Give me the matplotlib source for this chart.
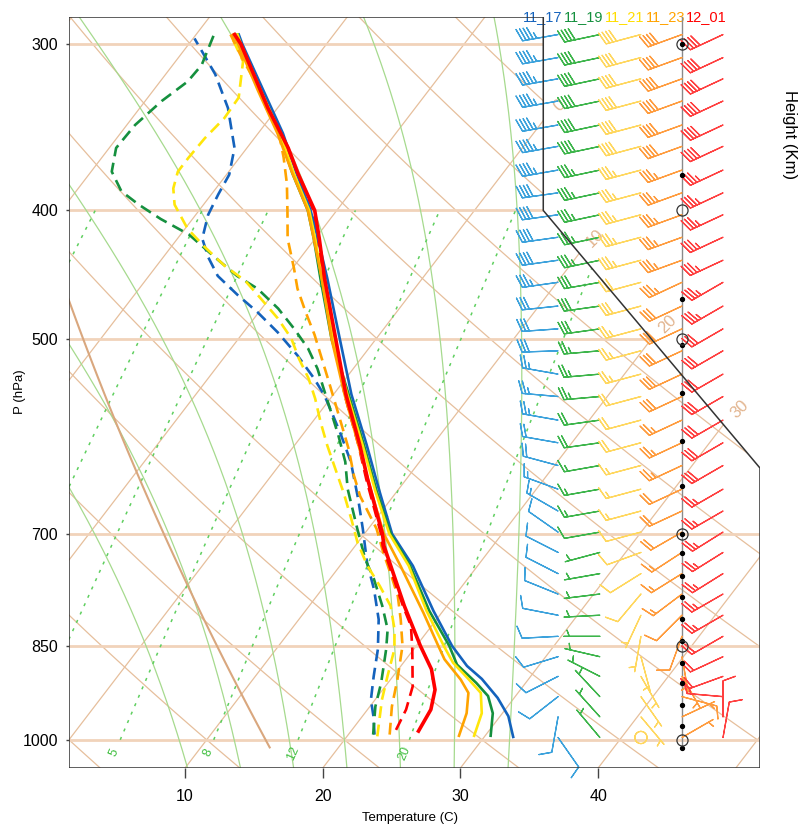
import numpy as np
import matplotlib
matplotlib.use("Agg")
import matplotlib.pyplot as plt
import matplotlib.transforms as mtransforms
from matplotlib.patches import Polygon

plt.rcParams["font.family"] = ["Liberation Sans", "DejaVu Sans"]

# ---------------- data ----------------
times = ["11_17", "11_19", "11_21", "11_23", "12_01"]
line_colors = ["#1462bc", "#15903e", "#ffe60a", "#ffa300", "#ff0000"]
barb_colors = ["#3ca2dc", "#3db54b", "#ffd75e", "#ff9c3e", "#ff4040"]

# temperature (hPa, C)
p_t_1117 = [995, 960, 930, 900, 880, 850, 800, 740, 700, 650, 600, 550, 500, 450, 420, 400, 375, 350, 325, 300, 295]
t_1117 = [32.1, 30.6, 28.8, 26.6, 24.8, 22.6, 19.3, 15.3, 12.0, 8.7, 5.2, 1.3, -2.6, -6.9, -9.8, -11.9, -15.0, -18.2, -22.0, -26.1, -26.9]
p_t_1119 = [993, 955, 927, 906, 878, 850, 800, 740, 700, 650, 600, 550, 500, 450, 420, 400, 375, 350, 325, 300, 295]
t_1119 = [30.4, 29.3, 28.0, 26.4, 24.0, 22.4, 19.0, 15.1, 11.9, 8.5, 5.0, 1.1, -3.2, -7.4, -10.1, -12.1, -15.3, -18.5, -22.3, -26.3, -27.0]
p_t_1121 = [993, 955, 922, 901, 875, 850, 800, 740, 700, 650, 600, 550, 500, 450, 420, 400, 375, 350, 325, 300, 295]
t_1121 = [29.2, 28.5, 27.3, 25.7, 23.6, 22.0, 18.8, 15.0, 11.8, 8.4, 4.9, 1.0, -3.1, -7.3, -10.0, -12.0, -15.2, -18.4, -22.2, -26.2, -27.0]
p_t_1123 = [993, 955, 922, 901, 870, 850, 803, 740, 700, 650, 600, 550, 500, 450, 420, 400, 375, 350, 325, 300, 295]
t_1123 = [28.1, 27.4, 26.4, 25.1, 22.8, 21.6, 18.7, 14.4, 11.4, 8.1, 4.6, 0.8, -3.2, -7.3, -10.1, -12.1, -15.3, -18.6, -22.4, -26.4, -27.3]
p_t_1201 = [985, 949, 917, 885, 850, 793, 715, 700, 637, 600, 550, 500, 450, 420, 400, 375, 359, 335, 300, 295]
t_1201 = [24.9, 24.6, 23.8, 22.4, 20.3, 16.9, 12.1, 11.3, 7.2, 4.7, 0.9, -2.9, -7.1, -9.7, -11.6, -14.9, -17.0, -20.7, -26.2, -27.2]

# dew point (hPa, C)
p_td_1117 = [991, 960, 933, 896, 855, 812, 771, 736, 694, 659, 618, 590, 570, 551, 535, 514, 494, 477, 463,
             448, 434, 420, 403, 389, 376, 359, 335, 316, 297]
td_1117 = [21.9, 20.8, 19.7, 18.6, 17.4, 15.8, 13.8, 11.8, 9.6, 7.6, 5.0, 2.8, 1.1, -0.6, -2.3, -4.8, -7.5, -10.1, -12.5,
           -15.0, -16.7, -18.2, -19.1, -19.5, -19.8, -20.9, -23.6, -26.4, -29.9]
p_td_1119 = [991, 944, 906, 855, 826, 793, 757, 732, 694, 648, 618, 590, 567, 545, 526, 508, 491, 474, 458,
             448, 434, 417, 406, 396, 387, 374, 359, 345, 331, 320, 311, 295]
td_1119 = [21.8, 20.4, 19.5, 18.0, 17.0, 15.3, 13.2, 11.5, 9.2, 6.3, 4.6, 2.6, 0.8, -1.0, -2.6, -4.4, -6.5, -8.8, -11.4,
           -13.6, -16.2, -19.4, -22.3, -24.7, -26.7, -28.5, -29.5, -29.4, -28.8, -28.0, -27.9, -28.7]
p_td_1121 = [994, 933, 896, 855, 826, 793, 766, 740, 711, 682, 652, 626, 601, 577, 554, 535, 517, 499, 482, 466,
             452, 440, 427, 413, 396, 385, 374, 365, 353, 341, 329, 309, 295]
td_1121 = [22.2, 20.5, 19.6, 18.6, 17.5, 15.9, 14.0, 12.0, 10.0, 8.2, 6.2, 4.3, 2.4, 0.6, -1.1, -2.7, -4.5, -6.2, -8.3, -10.6,
           -12.7, -15.1, -17.4, -19.8, -22.1, -23.1, -23.7, -23.7, -23.6, -23.3, -23.4, -25.1, -27.5]
p_td_1123 = [991, 944, 901, 850, 812, 780, 753, 723, 694, 656, 633, 604, 580, 557, 535, 514, 496, 477, 458, 442,
             420, 401, 382, 365, 349, 335, 320, 307, 295]
td_1123 = [23.0, 21.6, 20.5, 19.0, 17.4, 15.9, 14.3, 12.4, 10.6, 7.6, 6.0, 4.1, 2.3, 0.5, -1.3, -3.1, -4.7, -6.6, -8.5, -9.9,
           -12.0, -13.5, -15.1, -16.8, -18.6, -20.7, -23.1, -25.4, -27.5]
p_td_1201 = [983, 949, 912, 855, 821, 793, 715, 700, 637, 600, 550, 500, 450, 400, 359, 335, 300, 295]
td_1201 = [23.2, 22.8, 22.0, 19.9, 18.5, 16.8, 12.0, 11.2, 7.1, 4.6, 0.8, -3.0, -7.2, -11.7, -17.1, -20.8, -26.3, -27.3]

# wind barb levels (hPa), direction (deg, from) and speed per time
barb_p = [295, 307, 318.5, 331, 345, 358, 373, 388, 403, 419, 436, 453, 472, 491, 510, 531, 552,
          575, 598, 622, 648, 673, 698, 723, 750, 777, 806, 836, 866, 896, 928, 961, 996]
dir_1117 = [260, 260, 260, 260, 260, 260, 260, 262, 262, 262, 262, 262, 264, 266, 268, 280, 275,
            280, 280, 285, 290, 300, 305, 297, 297, 292, 281, 267, 253, 243, 232, 190, 145]
spd_1117 = [45, 45, 45, 45, 45, 45, 45, 40, 40, 40, 40, 35, 30, 30, 30, 25, 25,
            25, 20, 20, 15, 15, 10, 10, 10, 10, 10, 10, 10, 10, 10, 10, 10]
dir_1119 = [258, 258, 258, 258, 258, 258, 258, 258, 258, 258, 258, 260, 262, 262, 265, 265, 265,
            262, 262, 260, 260, 260, 260, 255, 260, 263, 267, 270, 283, 297, 317, 318, 320]
spd_1119 = [40, 40, 40, 40, 40, 40, 35, 35, 35, 35, 35, 30, 30, 30, 25, 25, 25,
            20, 20, 15, 15, 15, 10, 5, 5, 5, 5, 5, 5, 5, 5, 5, 5]
dir_1121 = [255, 255, 255, 255, 255, 255, 255, 255, 255, 255, 255, 255, 255, 255, 255, 255, 255,
            255, 255, 255, 255, 255, 255, 250, 238, 220, 205, 190, 165, 150, 145, 140, 0]
spd_1121 = [40, 40, 40, 40, 40, 40, 35, 35, 35, 35, 35, 30, 30, 25, 25, 25, 20,
            20, 20, 15, 15, 15, 10, 10, 10, 10, 5, 5, 5, 5, 5, 5, 0]
dir_1123 = [250, 250, 250, 250, 250, 250, 250, 250, 250, 250, 250, 245, 245, 245, 245, 245, 245,
            245, 245, 245, 245, 245, 240, 237, 238, 233, 225, 200, 170, 150, 105, 65, 60]
spd_1123 = [40, 40, 40, 40, 40, 40, 35, 35, 35, 35, 35, 35, 30, 30, 30, 30, 30,
            25, 25, 25, 20, 20, 20, 15, 15, 15, 10, 10, 5, 5, 10, 5, 5]
dir_1201 = [245, 245, 245, 245, 245, 245, 245, 245, 245, 245, 245, 240, 240, 240, 240, 240, 240,
            240, 240, 240, 240, 240, 238, 238, 238, 240, 240, 240, 245, 250, 275, 360, 10]
spd_1201 = [40, 40, 40, 40, 40, 40, 35, 35, 35, 35, 35, 35, 35, 30, 30, 30, 30,
            30, 30, 30, 25, 25, 25, 25, 25, 25, 25, 20, 20, 20, 15, 10, 10]

# height axis marks (hPa)
height_dot_p = [300, 376, 466, 505, 549, 596, 644, 700, 724, 753, 781, 812, 843, 875, 907, 942, 977, 1014]
height_ring_p = [300, 400, 500, 700, 850, 1000]

# ---------------- skew-T geometry (NCL style) ----------------
def skew_y(p):
    return 132.182 - 44.061 * np.log10(np.asarray(p, dtype=float))


def skew_x(t, p):
    return 0.54 * np.asarray(t, dtype=float) + 0.90692 * skew_y(p)


XMAX = 27.1
YBOT = skew_y(1050.0)
YTOP = 23.94
outline = [(0.0, YBOT), (XMAX, YBOT), (XMAX, 9.0), (18.6, skew_y(400.0)), (18.6, YTOP), (0.0, YTOP)]

fig = plt.figure(figsize=(8.04, 8.27), dpi=100)
ax = fig.add_axes([69 / 804, 59 / 827, 691 / 804, 751 / 827])
ax.set_xlim(0, XMAX)
ax.set_ylim(YBOT, YTOP)
for s in ax.spines.values():
    s.set_visible(False)

clip = Polygon(outline, closed=True, transform=ax.transData, fill=False, edgecolor="none")
ax.add_patch(clip)

tan = "#e6bf9c"
pp = np.linspace(1050, 280, 300)


def bg_line(x, y, **kw):
    ln, = ax.plot(x, y, **kw)
    ln.set_clip_path(clip)
    return ln


# isotherms
for t in range(-100, 60, 10):
    bg_line(skew_x([t, t], [1050, 280]), skew_y([1050, 280]), color=tan, lw=0.9, zorder=1)

# dry adiabats
for th in range(-40, 210, 10):
    tt = (th + 273.15) * (pp / 1000.0) ** 0.2857 - 273.15
    bg_line(skew_x(tt, pp), skew_y(pp), color=tan, lw=0.9, zorder=1)

# isobars
for p in [1000, 850, 700, 500, 400, 300]:
    bg_line([0, XMAX], [skew_y(p), skew_y(p)], color="#f1d3ba", lw=2.0, zorder=1)


# moist adiabats
def moist_rate(tk, p):
    es = 6.112 * np.exp(17.67 * (tk - 273.15) / (tk - 29.65))
    rs = 0.622 * es / (p - es)
    num = 287.0 * tk + 2.501e6 * rs
    den = 1005.7 + 2.501e6 ** 2 * rs * 0.622 / (287.0 * tk ** 2)
    return num / den / p


def moist_path(t0, plist):
    tk = t0 + 273.15
    out = [tk]
    for p0, p1 in zip(plist[:-1], plist[1:]):
        k1 = moist_rate(tk, p0)
        k2 = moist_rate(tk + 0.5 * k1 * (p1 - p0), 0.5 * (p0 + p1))
        tk = tk + k2 * (p1 - p0)
        out.append(tk)
    return np.array(out) - 273.15


p_up = np.arange(1000, 278, -2.0)
p_dn = np.arange(1000, 1052, 2.0)
for t0 in [8, 12, 16, 20, 24, 28, 32]:
    tu = moist_path(t0, p_up)
    td = moist_path(t0, p_dn)
    px = np.concatenate([p_dn[::-1], p_up[1:]])
    tx = np.concatenate([td[::-1], tu[1:]])
    bg_line(skew_x(tx, px), skew_y(px), color="#a6da8e", lw=0.9, zorder=1)

# mixing ratio lines
pw = np.linspace(1000, 400, 50)
for w in [1, 2, 3, 5, 8, 12, 20]:
    e = w * pw / (622.0 + w)
    a = np.log(e / 6.112)
    tdw = 243.5 * a / (17.67 - a)
    bg_line(skew_x(tdw, pw), skew_y(pw), color="#5fcf5f", lw=1.1, ls=(0, (2, 4)), zorder=1)
    if w >= 5:
        e0 = w * 1023.0 / (622.0 + w)
        a0 = np.log(e0 / 6.112)
        t0 = 243.5 * a0 / (17.67 - a0)
        ax.text(skew_x(t0, 1023), skew_y(1023), str(w), color="#3fbf3f", fontsize=9,
                rotation=66, ha="center", va="center", zorder=2)

# standard atmosphere
p_std = np.linspace(1013.25, 280, 100)
t_std = 288.15 * (p_std / 1013.25) ** 0.190263 - 273.15
bg_line(skew_x(t_std, p_std), skew_y(p_std), color="#d9a77e", lw=1.5, zorder=1)

# isotherm labels along the cut edge
for t in [0, 10, 20, 30]:
    yv = (18.6 - 0.54 * t) / 0.90692
    if yv < skew_y(400.0):
        y4 = skew_y(400.0)
        k = (XMAX - 18.6) / (9.0 - y4)
        yv = (18.6 - k * y4 - 0.54 * t) / (0.90692 - k)
    xv = 0.54 * t + 0.90692 * yv
    ax.text(xv + 0.62, yv + 0.5, str(t), color="#e2b48e", fontsize=12, rotation=45,
            ha="center", va="center", zorder=2, clip_on=False)

# outline
ax.add_patch(Polygon(outline, closed=True, fill=False, edgecolor="#333333", lw=1.1, zorder=8))

# ---------------- profiles ----------------
t_sets = [(p_t_1117, t_1117), (p_t_1119, t_1119), (p_t_1121, t_1121), (p_t_1123, t_1123), (p_t_1201, t_1201)]
td_sets = [(p_td_1117, td_1117), (p_td_1119, td_1119), (p_td_1121, td_1121), (p_td_1123, td_1123),
           (p_td_1201, td_1201)]
for i, ((pt, tt), (pd, tdd)) in enumerate(zip(t_sets, td_sets)):
    lw = 2.6 if i == 4 else 1.9
    ax.plot(skew_x(tdd, pd), skew_y(pd), color=line_colors[i], lw=1.9,
            ls=(0, (4.5, 2.5)), zorder=5)
    ax.plot(skew_x(tt, pt), skew_y(pt), color=line_colors[i], lw=lw, zorder=6)

# ---------------- height axis ----------------
barb_x = [19.18, 20.82, 22.43, 24.04, 25.65]
hx = barb_x[3]
ax.plot([hx, hx], [skew_y(1014), YTOP], color="#8a8a8a", lw=1.0, zorder=7, clip_on=False)
ax.plot([hx] * len(height_dot_p), skew_y(height_dot_p), "o", color="black", ms=2.8, zorder=9, clip_on=False)
ax.plot([hx] * len(height_ring_p), skew_y(height_ring_p), "o", mfc="none", mec="#333333", mew=0.9, ms=8,
        zorder=9, clip_on=False)

# ---------------- wind barbs ----------------
dirs = [dir_1117, dir_1119, dir_1121, dir_1123, dir_1201]
spds = [spd_1117, spd_1119, spd_1121, spd_1123, spd_1201]
by = skew_y(barb_p)
for i in range(5):
    d = np.radians(dirs[i])
    s = np.array(spds[i], dtype=float)
    u = -s * np.sin(d)
    v = -s * np.cos(d)
    ax.barbs([barb_x[i]] * len(barb_p), by, u, v, color=barb_colors[i], length=7.2, linewidth=0.9,
             pivot="tip", sizes=dict(spacing=0.1, height=0.34, emptybarb=0.17),
             barb_increments=dict(half=5, full=10, flag=50), zorder=7, clip_on=False)

trans = mtransforms.blended_transform_factory(ax.transData, ax.transAxes)
for i, name in enumerate(times):
    ax.text(barb_x[i] + 0.15, 1.0, name, color=line_colors[i] if i != 2 else "#ffdd00",
            fontsize=10.5, ha="right", va="center", transform=trans, clip_on=False)

# ---------------- axes ----------------
xt = [10, 20, 30, 40]
ax.set_xticks(skew_x(xt, [1050] * 4))
ax.set_xticklabels([str(v) for v in xt], fontsize=11.5)
ax.tick_params(axis="x", length=7, width=1, color="#444444", pad=8)
yt = [1000, 850, 700, 500, 400, 300]
ax.set_yticks(skew_y(yt))
ax.set_yticklabels([str(v) for v in yt], fontsize=11.5)
ax.tick_params(axis="y", length=2, width=1, color="#444444", pad=6)
fig.text(410 / 804, 1 - 818 / 827, "Temperature (C)", fontsize=9.5, ha="center", va="center")
fig.text(20 / 804, 1 - 392 / 827, "P (hPa)", rotation=90, fontsize=9.5, ha="center", va="center")
fig.text(790 / 804, 1 - 135 / 827, "Height (Km)", rotation=-90, fontsize=12, ha="center", va="center")

fig.savefig("out.png", dpi=100)
